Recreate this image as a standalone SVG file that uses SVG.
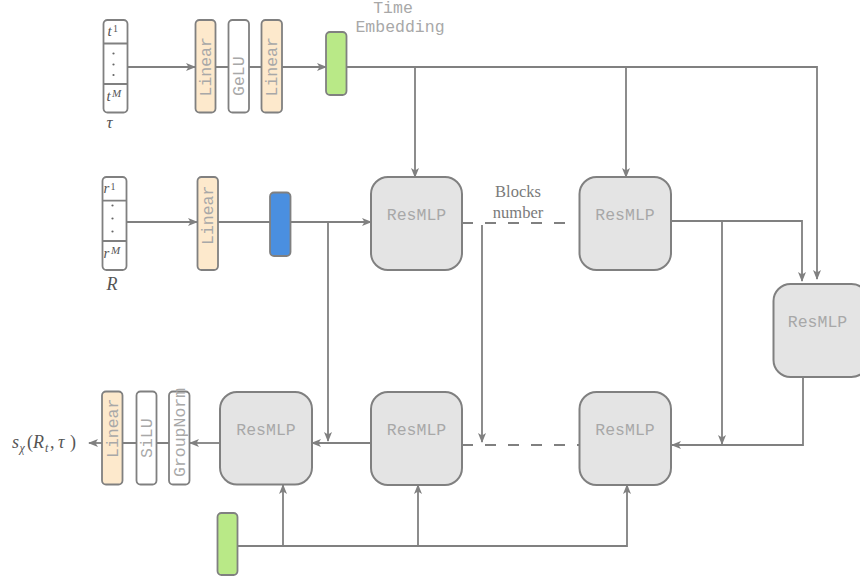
<svg xmlns="http://www.w3.org/2000/svg" width="860" height="577" viewBox="0 0 860 577">
<defs>
<marker id="ah" viewBox="0 0 10 8" refX="9" refY="4" markerWidth="10" markerHeight="8" markerUnits="userSpaceOnUse" orient="auto">
<path d="M0,0 L10,4 L0,8 L2.5,4 z" fill="#808080"/>
</marker>
<style>
.box{stroke:#808080;stroke-width:1.8}
.res{fill:#e4e4e4;stroke:#808080;stroke-width:2}
.lin{fill:#fde9cc}
.wht{fill:#ffffff}
.grn{fill:#b9e987}
.blu{fill:#4a8fe0}
.mono{font-family:"Liberation Mono","DejaVu Sans Mono",monospace;font-size:16.5px;fill:#a8a8a8}
.ser{font-family:"Liberation Serif","DejaVu Serif",serif;font-size:16.5px;fill:#7a7a7a}
.math{font-family:"Liberation Serif","DejaVu Serif",serif;font-style:italic;fill:#555555}
.up{font-style:normal}
.c{fill:none;stroke:#808080;stroke-width:1.8}
.d{fill:none;stroke:#808080;stroke-width:2;stroke-dasharray:11,12}
.dot{fill:#666666}
</style>
</defs>

<g id="connectors">
<path class="c" d="M128,67 H195" marker-end="url(#ah)"/>
<path class="c" d="M216,67 H229 M249,67 H262"/>
<path class="c" d="M282,67 H326" marker-end="url(#ah)"/>
<path class="c" d="M347,67 H817 V279" marker-end="url(#ah)"/>
<path class="c" d="M415,67 V177" marker-end="url(#ah)"/>
<path class="c" d="M626,67 V177" marker-end="url(#ah)"/>
<path class="c" d="M126,222 H197" marker-end="url(#ah)"/>
<path class="c" d="M218,222 H270"/>
<path class="c" d="M291,222 H371" marker-end="url(#ah)"/>
<path class="c" d="M328,222 V441" marker-end="url(#ah)"/>
<path class="d" d="M462,223 H570"/>
<path class="c" d="M482,225 V442" marker-end="url(#ah)"/>
<path class="c" d="M671,221 H802 V281" marker-end="url(#ah)"/>
<path class="c" d="M722,221 V444" marker-end="url(#ah)"/>
<path class="c" d="M803,377 V445 H672" marker-end="url(#ah)"/>
<path class="d" d="M462,445 H579"/>
<path class="c" d="M371,443 H312" marker-end="url(#ah)"/>
<path class="c" d="M220,443 H190" marker-end="url(#ah)"/>
<path class="c" d="M169,443 H157 M136,443 H122"/>
<path class="c" d="M102,443 H89" marker-end="url(#ah)"/>
<path class="c" d="M237,546 H627 V485" marker-end="url(#ah)"/>
<path class="c" d="M283,546 V485" marker-end="url(#ah)"/>
<path class="c" d="M418,546 V485" marker-end="url(#ah)"/>
</g>

<g id="tau-input">
<rect class="box wht" x="103.5" y="20" width="24" height="92.5" rx="4"/>
<path class="c" d="M103.5,43.5 H127.5 M103.5,84 H127.5"/>
<circle class="dot" cx="113.5" cy="53.5" r="1.1"/>
<circle class="dot" cx="113.5" cy="64.5" r="1.1"/>
<circle class="dot" cx="113.5" cy="75" r="1.1"/>
<text class="math" x="107.5" y="36" font-size="15">t</text>
<text class="math up" x="113" y="32" font-size="10">1</text>
<text class="math" x="106.5" y="101" font-size="15">t</text>
<text class="math" x="112" y="97" font-size="11">M</text>
<text class="math" x="106.5" y="128" font-size="17">τ</text>
</g>

<g id="t-linear1">
<rect class="box lin" x="195.5" y="20" width="20" height="92.5" rx="4"/>
<text class="mono" transform="translate(210.5,96.5) rotate(-90)">Linear</text>
</g>
<g id="t-gelu">
<rect class="box wht" x="228.5" y="20" width="20.5" height="92.5" rx="4"/>
<text class="mono" transform="translate(244,96) rotate(-90)">GeLU</text>
</g>
<g id="t-linear2">
<rect class="box lin" x="261.5" y="20" width="20.5" height="92.5" rx="4"/>
<text class="mono" transform="translate(277,96.5) rotate(-90)">Linear</text>
</g>
<g id="time-embedding">
<rect class="box grn" x="326" y="32" width="20.5" height="63" rx="4"/>
<text class="mono" x="393" y="13" text-anchor="middle">Time</text>
<text class="mono" x="400" y="32" text-anchor="middle">Embedding</text>
</g>

<g id="r-input">
<rect class="box wht" x="102.5" y="177" width="24" height="93" rx="4"/>
<path class="c" d="M102.5,200.7 H126.5 M102.5,241 H126.5"/>
<circle class="dot" cx="112.5" cy="205.5" r="1.1"/>
<circle class="dot" cx="112.5" cy="218.5" r="1.1"/>
<circle class="dot" cx="112.5" cy="231.5" r="1.1"/>
<text class="math" x="103.5" y="193" font-size="15">r</text>
<text class="math up" x="110.5" y="190" font-size="10">1</text>
<text class="math" x="103.5" y="258" font-size="15">r</text>
<text class="math" x="111" y="254" font-size="11">M</text>
<text class="math" x="106.5" y="290" font-size="18">R</text>
</g>
<g id="r-linear">
<rect class="box lin" x="197.5" y="177" width="20.5" height="93" rx="4"/>
<text class="mono" transform="translate(213,245) rotate(-90)">Linear</text>
</g>
<g id="r-embedding">
<rect class="box blu" x="270" y="192.5" width="20.5" height="63.5" rx="4"/>
</g>

<g id="resmlp1">
<rect class="res" x="371" y="177" width="91" height="93" rx="17"/>
<text class="mono" x="416.5" y="220" text-anchor="middle">ResMLP</text>
</g>
<g id="blocks-label">
<text class="ser" x="518" y="197" text-anchor="middle">Blocks</text>
<text class="ser" x="518" y="218" text-anchor="middle">number</text>
</g>
<g id="resmlp2">
<rect class="res" x="579.5" y="177" width="91.5" height="93" rx="17"/>
<text class="mono" x="625" y="220" text-anchor="middle">ResMLP</text>
</g>
<g id="resmlp3">
<rect class="res" x="773.5" y="284" width="95" height="93" rx="17"/>
<text class="mono" x="817.5" y="327" text-anchor="middle">ResMLP</text>
</g>
<g id="resmlp4">
<rect class="res" x="579.5" y="392" width="91.5" height="93" rx="17"/>
<text class="mono" x="625" y="434.5" text-anchor="middle">ResMLP</text>
</g>
<g id="resmlp5">
<rect class="res" x="371" y="392" width="91" height="93" rx="17"/>
<text class="mono" x="416.5" y="434.5" text-anchor="middle">ResMLP</text>
</g>
<g id="resmlp6">
<rect class="res" x="220" y="392" width="92" height="92.5" rx="17"/>
<text class="mono" x="266" y="434.5" text-anchor="middle">ResMLP</text>
</g>

<g id="groupnorm">
<rect class="box wht" x="169" y="391.5" width="20.5" height="93" rx="4"/>
<text class="mono" transform="translate(184.5,477) rotate(-90)">GroupNorm</text>
</g>
<g id="silu">
<rect class="box wht" x="136.5" y="391.5" width="20" height="93" rx="4"/>
<text class="mono" transform="translate(151.5,458) rotate(-90)">SiLU</text>
</g>
<g id="out-linear">
<rect class="box lin" x="102" y="391.5" width="20.5" height="93" rx="4"/>
<text class="mono" transform="translate(117.5,458) rotate(-90)">Linear</text>
</g>
<g id="output-label">
<text class="math" font-size="18" y="448"><tspan x="12">s</tspan><tspan x="19.5" y="452" font-size="12">χ</tspan><tspan class="up" x="27" y="448">(</tspan><tspan x="33">R</tspan><tspan x="45" y="452" font-size="12">t</tspan><tspan class="up" x="50" y="448">,</tspan><tspan x="58">τ</tspan><tspan class="up" x="70">)</tspan></text>
</g>
<g id="time-embedding-bottom">
<rect class="box grn" x="217.5" y="513" width="20" height="62" rx="4"/>
</g>
</svg>
